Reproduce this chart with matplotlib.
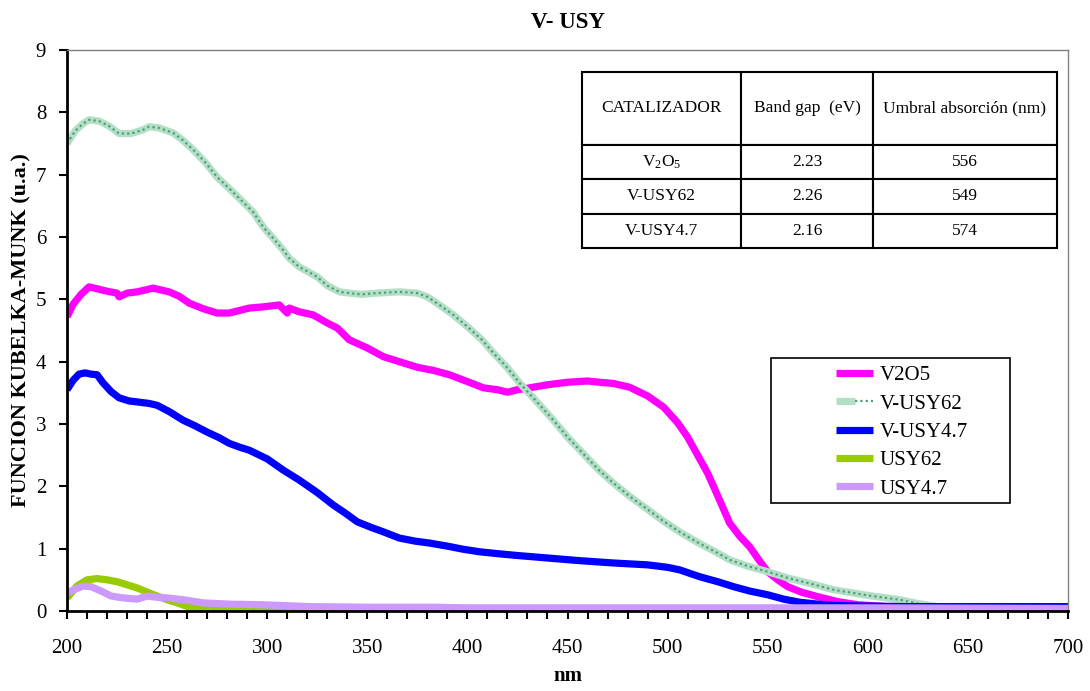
import matplotlib
matplotlib.use('Agg')
import matplotlib.pyplot as plt
from matplotlib.patches import Rectangle
from matplotlib.legend_handler import HandlerTuple
from matplotlib.ticker import MultipleLocator

plt.rcParams['font.family'] = ['Liberation Serif', 'DejaVu Serif']
plt.rcParams['mathtext.fontset'] = 'custom'
plt.rcParams['mathtext.rm'] = 'Liberation Serif'
plt.rcParams['mathtext.it'] = 'Liberation Serif:italic'

# Kubelka-Munk spectra (nm, u.a.)
v2o5_nm = [200, 203, 207, 211, 215, 220, 225, 226, 230, 235, 243, 251, 256, 261, 268, 275,
           281, 286, 291, 298, 306, 310, 311, 316, 323, 330, 335, 341, 350, 358, 366, 375,
           383, 391, 400, 408, 415, 420, 425, 431, 440, 450, 460, 466, 473, 481, 490, 498,
           505, 510, 515, 520, 525, 531, 536, 541, 546, 550, 555, 560, 567, 575, 585, 595,
           610, 630, 660, 700]
v2o5_km = [4.72, 4.92, 5.08, 5.20, 5.17, 5.13, 5.10, 5.04, 5.10, 5.12, 5.18, 5.12, 5.05, 4.94,
           4.85, 4.78, 4.78, 4.82, 4.86, 4.88, 4.91, 4.78, 4.86, 4.80, 4.75, 4.62, 4.54, 4.35,
           4.22, 4.08, 4.00, 3.91, 3.86, 3.79, 3.68, 3.58, 3.55, 3.51, 3.55, 3.58, 3.63, 3.67,
           3.69, 3.67, 3.65, 3.59, 3.45, 3.27, 3.02, 2.79, 2.50, 2.21, 1.85, 1.41, 1.20, 1.03,
           0.80, 0.63, 0.50, 0.39, 0.30, 0.23, 0.15, 0.10, 0.07, 0.06, 0.05, 0.05]

vusy62_nm = [200, 204, 208, 211, 216, 221, 226, 232, 238, 241, 246, 253, 258, 263, 269, 275,
             281, 287, 293, 298, 303, 308, 311, 316, 320, 325, 330, 336, 341, 347, 355, 366,
             375, 380, 386, 393, 400, 407, 413, 420, 426, 434, 443, 450, 458, 466, 473, 481,
             490, 498, 506, 515, 525, 531, 540, 550, 560, 570, 583, 600, 616, 625, 635, 645,
             660, 700]
vusy62_km = [7.50, 7.70, 7.82, 7.88, 7.86, 7.78, 7.66, 7.66, 7.72, 7.77, 7.75, 7.67, 7.55,
             7.40, 7.20, 6.96, 6.78, 6.59, 6.40, 6.16, 5.98, 5.79, 5.66, 5.52, 5.45, 5.36,
             5.22, 5.12, 5.10, 5.08, 5.10, 5.12, 5.10, 5.04, 4.91, 4.75, 4.56, 4.36, 4.14,
             3.90, 3.66, 3.38, 3.06, 2.79, 2.52, 2.25, 2.05, 1.84, 1.63, 1.44, 1.27, 1.10,
             0.93, 0.82, 0.72, 0.63, 0.53, 0.45, 0.34, 0.25, 0.18, 0.12, 0.07, 0.05, 0.05, 0.05]

vusy47_nm = [200, 203, 206, 209, 212, 215, 218, 222, 226, 231, 236, 241, 245, 251, 258, 264,
             270, 276, 281, 286, 291, 300, 308, 316, 325, 333, 339, 345, 352, 358, 366, 374,
             381, 390, 398, 406, 415, 425, 440, 455, 473, 490, 500, 506, 516, 525, 533, 541,
             550, 558, 566, 575, 583, 595, 620, 660, 700]
vusy47_km = [3.55, 3.70, 3.80, 3.82, 3.80, 3.79, 3.66, 3.52, 3.42, 3.37, 3.35, 3.33, 3.30,
             3.20, 3.06, 2.97, 2.87, 2.78, 2.69, 2.63, 2.58, 2.44, 2.26, 2.10, 1.90, 1.70,
             1.57, 1.43, 1.34, 1.27, 1.17, 1.12, 1.09, 1.04, 0.99, 0.95, 0.92, 0.89, 0.85,
             0.81, 0.77, 0.74, 0.70, 0.66, 0.55, 0.47, 0.39, 0.32, 0.26, 0.19, 0.14, 0.11,
             0.09, 0.08, 0.07, 0.07, 0.07]

usy62_nm = [200, 205, 210, 215, 220, 225, 230, 235, 241, 245, 250, 256, 261, 270, 280, 300,
            320, 400, 500, 600, 700]
usy62_km = [0.21, 0.40, 0.50, 0.52, 0.50, 0.47, 0.42, 0.37, 0.29, 0.24, 0.18, 0.12, 0.06,
            0.03, 0.02, 0.02, 0.01, 0.0, 0.0, 0.0, 0.0]

usy47_nm = [200, 204, 208, 212, 217, 222, 228, 235, 240, 245, 250, 258, 268, 281, 298, 321,
            350, 383, 400, 450, 500, 600, 700]
usy47_km = [0.29, 0.35, 0.40, 0.39, 0.32, 0.24, 0.21, 0.19, 0.24, 0.22, 0.21, 0.18, 0.13,
            0.11, 0.10, 0.07, 0.06, 0.06, 0.05, 0.05, 0.05, 0.05, 0.04]

# band gap table
col_labels = ['CATALIZADOR', 'Band gap  (eV)', 'Umbral absorción (nm)']
catalysts = [r'V$_2$O$_5$', 'V-USY62', 'V-USY4.7']
band_gap = ['2.23', '2.26', '2.16']
threshold = ['556', '549', '574']

fig = plt.figure(figsize=(10.9, 6.91), dpi=100)
ax = fig.add_axes([0.0615, 0.1158, 0.9183, 0.8118])

lw = 5.2
l1, = ax.plot(v2o5_nm, v2o5_km, color='#ff00ff', lw=lw, solid_capstyle='butt')
l2a, = ax.plot(vusy62_nm, vusy62_km, color='#b3dfc6', lw=lw, solid_capstyle='butt')
l2b, = ax.plot(vusy62_nm, vusy62_km, color='#4e9e78', lw=1.6, dashes=(1, 1.4))
l3, = ax.plot(vusy47_nm, vusy47_km, color='#0000ff', lw=lw, solid_capstyle='butt')
l4, = ax.plot(usy62_nm, usy62_km, color='#99cc00', lw=lw, solid_capstyle='butt')
l5, = ax.plot(usy47_nm, usy47_km, color='#cc99ff', lw=lw, solid_capstyle='butt')

ax.set_xlim(200, 700)
ax.set_ylim(0, 9)
ax.xaxis.set_major_locator(MultipleLocator(50))
ax.xaxis.set_minor_locator(MultipleLocator(10))
ax.yaxis.set_major_locator(MultipleLocator(1))
ax.tick_params(axis='both', which='both', direction='out', width=1.5, length=6, labelsize=15)
ax.tick_params(axis='x', which='both', pad=14)
ax.tick_params(axis='y', pad=9)

for s in ['left', 'bottom']:
    ax.spines[s].set_linewidth(2)
    ax.spines[s].set_color('black')
for s in ['top', 'right']:
    ax.spines[s].set_linewidth(1)
    ax.spines[s].set_color('#808080')

ax.set_title('V- USY', fontsize=16.5, fontweight='bold', pad=16)
ax.set_xlabel('nm', fontsize=15, fontweight='bold', labelpad=6)
ax.set_ylabel('FUNCION KUBELKA-MUNK (u.a.)', fontsize=16, fontweight='bold', labelpad=3)

# legend, with its own frame
ax.add_patch(Rectangle((0.703, 0.1925), 0.239, 0.2585, transform=ax.transAxes,
                       fill=False, edgecolor='black', lw=1.2, zorder=5))
ax.legend([l1, (l2a, l2b), l3, l4, l5],
          ['V2O5', 'V-USY62', 'V-USY4.7', 'USY62', 'USY4.7'],
          handler_map={tuple: HandlerTuple(ndivide=None)},
          loc='upper left', bbox_to_anchor=(0.768, 0.437), frameon=False,
          fontsize=15, handlelength=1.8, handletextpad=0.3, labelspacing=0.42,
          borderaxespad=0, borderpad=0)

tbl = ax.table(cellText=[[c, b, t] for c, b, t in zip(catalysts, band_gap, threshold)],
               colLabels=col_labels, cellLoc='center', colWidths=[159, 132, 184],
               bbox=[0.5145, 0.647, 0.4745, 0.3137])
tbl.auto_set_font_size(False)
tbl.set_fontsize(12.5)
for (r, c), cell in tbl.get_celld().items():
    cell.set_linewidth(1.5)
    cell.set_edgecolor('black')
    cell.set_height(73 if r == 0 else 34.5)
    cell.set_facecolor('white')
tbl.set_zorder(6)

fig.savefig('out.png', dpi=100)
